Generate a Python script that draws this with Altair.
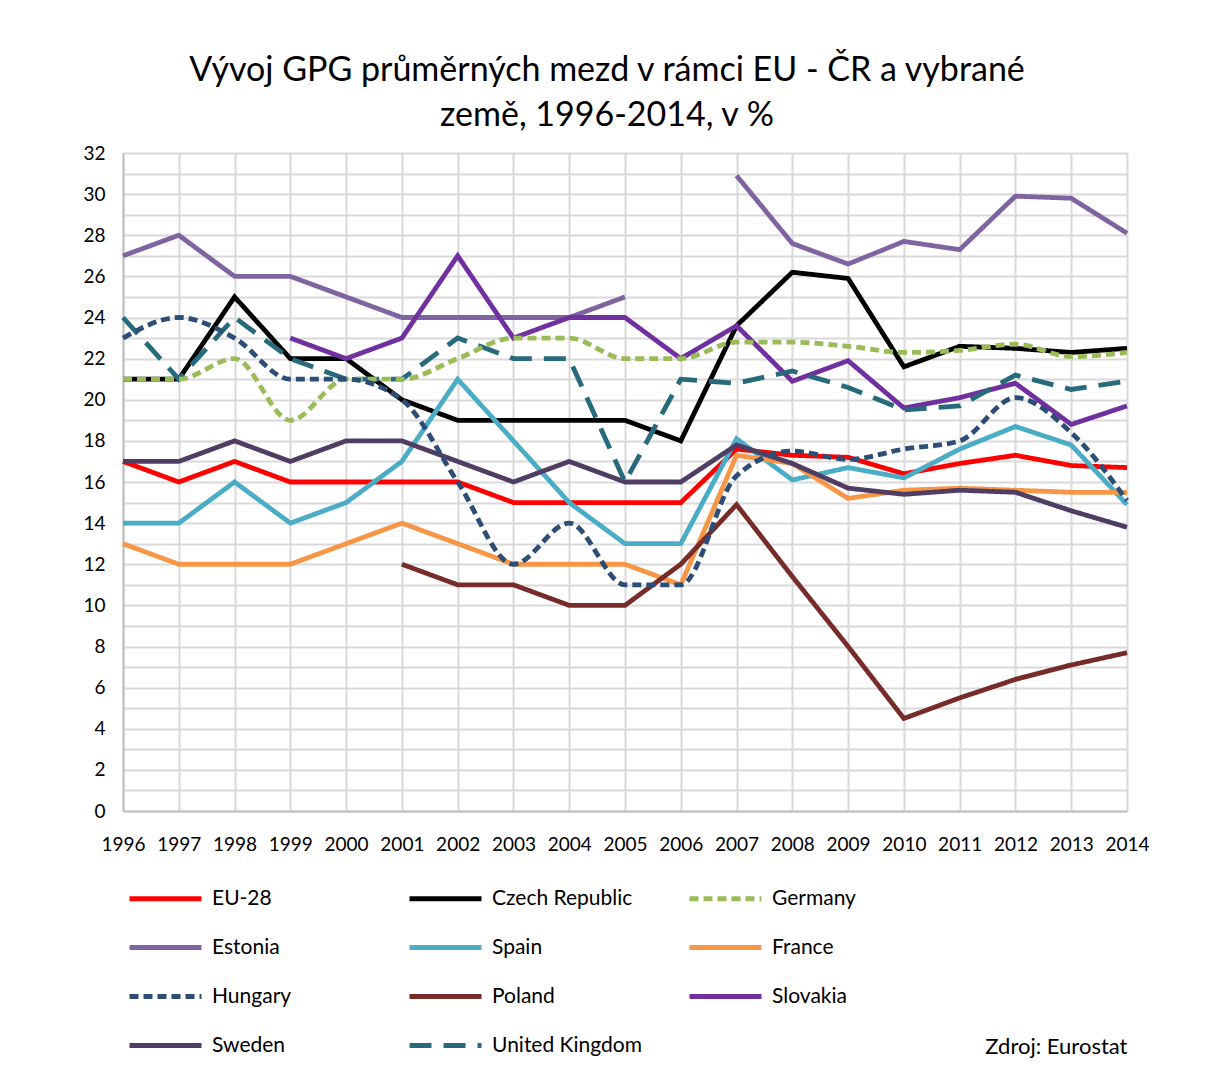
import altair as alt
import pandas as pd

years = list(range(1996, 2015))

series_names = ["EU-28", "Czech Republic", "Germany", "Estonia", "Spain", "France",
                "Hungary", "Poland", "Slovakia", "Sweden", "United Kingdom"]

eu28 = [17, 16, 17, 16, 16, 16, 16, 15, 15, 15, 15, 17.6, 17.3, 17.2, 16.4, 16.9, 17.3, 16.8, 16.7]
czech = [21, 21, 25, 22, 22, 20, 19, 19, 19, 19, 18, 23.6, 26.2, 25.9, 21.6, 22.6, 22.5, 22.3, 22.5]
germany = [21, 21, 22, 19, 21, 21, 22, 23, 23, 22, 22, 22.8, 22.8, 22.6, 22.3, 22.4, 22.7, 22.1, 22.3]
estonia = [27, 28, 26, 26, 25, 24, 24, 24, 24, 25, None, 30.9, 27.6, 26.6, 27.7, 27.3, 29.9, 29.8, 28.1]
spain = [14, 14, 16, 14, 15, 17, 21, 18, 15, 13, 13, 18.1, 16.1, 16.7, 16.2, 17.6, 18.7, 17.8, 14.9]
france = [13, 12, 12, 12, 13, 14, 13, 12, 12, 12, 11, 17.3, 16.9, 15.2, 15.6, 15.7, 15.6, 15.5, 15.5]
hungary = [23, 24, 23, 21, 21, 20, 16, 12, 14, 11, 11, 16.3, 17.5, 17.1, 17.6, 18.0, 20.1, 18.4, 15.1]
poland = [None, None, None, None, None, 12, 11, 11, 10, 10, 12, 14.9, 11.4, 8.0, 4.5, 5.5, 6.4, 7.1, 7.7]
slovakia = [None, None, None, 23, 22, 23, 27, 23, 24, 24, 22, 23.6, 20.9, 21.9, 19.6, 20.1, 20.8, 18.8, 19.7]
sweden = [17, 17, 18, 17, 18, 18, 17, 16, 17, 16, 16, 17.8, 16.9, 15.7, 15.4, 15.6, 15.5, 14.6, 13.8]
uk = [24, 21, 24, 22, 21, 21, 23, 22, 22, 16, 21, 20.8, 21.4, 20.6, 19.5, 19.7, 21.2, 20.5, 20.9]

series_values = [eu28, czech, germany, estonia, spain, france, hungary, poland, slovakia, sweden, uk]

colors = ["#FF0000", "#000000", "#9BBB59", "#8064A2", "#4BACC6", "#F79646",
          "#2C4D75", "#772C2A", "#7030A0", "#4F3D63", "#276A7C"]
dashes = [[1, 0], [1, 0], [9, 5], [1, 0], [1, 0], [1, 0],
          [9, 5], [1, 0], [1, 0], [1, 0], [22, 12]]
widths = [4.8, 4.8, 3.3, 3.3, 3.3, 3.3, 3.3, 3.3, 3.3, 3.3, 3.3]
smoothed = ["Germany", "Hungary"]

rows = []
for name, vals in zip(series_names, series_values):
    seg = 0
    prev_none = True
    for yr, v in zip(years, vals):
        if v is None:
            prev_none = True
            continue
        if prev_none:
            seg += 1
            prev_none = False
        rows.append({"series": name, "year": yr, "value": v, "seg": f"{name}-{seg}"})
df = pd.DataFrame(rows)

FONT = "Lato"

color_enc = alt.Color("series:N", scale=alt.Scale(domain=series_names, range=colors),
                      legend=alt.Legend(title=None, orient="none", direction="horizontal",
                                        legendX=4, legendY=707,
                                        columns=3, gridAlign="all", columnPadding=37,
                                        rowPadding=0, symbolType="stroke", symbolSize=5184,
                                        labelFont=FONT, labelFontSize=21, labelColor="#000000",
                                        labelOffset=8, labelLimit=300))
dash_enc = alt.StrokeDash("series:N", scale=alt.Scale(domain=series_names, range=dashes))
width_enc = alt.StrokeWidth("series:N", scale=alt.Scale(domain=series_names, range=widths))

x_enc = alt.X("year:Q", scale=alt.Scale(domain=[1996, 2014], nice=False, zero=False),
              axis=alt.Axis(values=years, format="d", title="Zdroj: Eurostat",
                            titleAnchor="end", titleAlign="right", titleX=1004, titleY=242,
                            titleBaseline="alphabetic", titleFont=FONT, titleFontSize=22,
                            titleFontWeight="normal", titleColor="#000000",
                            labelFont=FONT, labelFontSize=19, labelColor="#000000",
                            labelPadding=24, labelOverlap=False, labelFlush=False,
                            ticks=False, domainColor="#BFBFBF",
                            domainWidth=2, gridColor="#D9D9D9", gridWidth=2))
y_enc = alt.Y("value:Q", scale=alt.Scale(domain=[0, 32], nice=False),
              axis=alt.Axis(values=list(range(0, 33)),
                            labelExpr="datum.value % 2 == 0 ? datum.label : ''",
                            title=None, labelFont=FONT, labelFontSize=19, labelColor="#000000",
                            labelPadding=18, ticks=False, domainColor="#BFBFBF", domainWidth=2,
                            gridColor="#D9D9D9", gridWidth=2, minExtent=45, maxExtent=45))

base = alt.Chart(df).encode(x=x_enc, y=y_enc, color=color_enc, strokeDash=dash_enc,
                            strokeWidth=width_enc, detail="seg:N")

linear = base.transform_filter(
    ~alt.FieldOneOfPredicate(field="series", oneOf=smoothed)
).mark_line()
smooth = base.transform_filter(
    alt.FieldOneOfPredicate(field="series", oneOf=smoothed)
).mark_line(interpolate="monotone")

chart = alt.layer(linear, smooth).properties(
    width=1004, height=658,
    title=alt.TitleParams(text=["Vývoj GPG průměrných mezd v rámci EU - ČR a vybrané",
                                "země, 1996-2014, v %"],
                          font=FONT, fontSize=34, fontWeight="normal", color="#000000",
                          anchor="middle", dx=-18, lineHeight=45, offset=11),
    padding={"left": 70, "top": 46, "right": 5, "bottom": 5},
).configure_view(stroke="#D9D9D9", strokeWidth=2).configure(background="white")

chart.save("out.html", embed_options={"renderer": "svg", "actions": False})
